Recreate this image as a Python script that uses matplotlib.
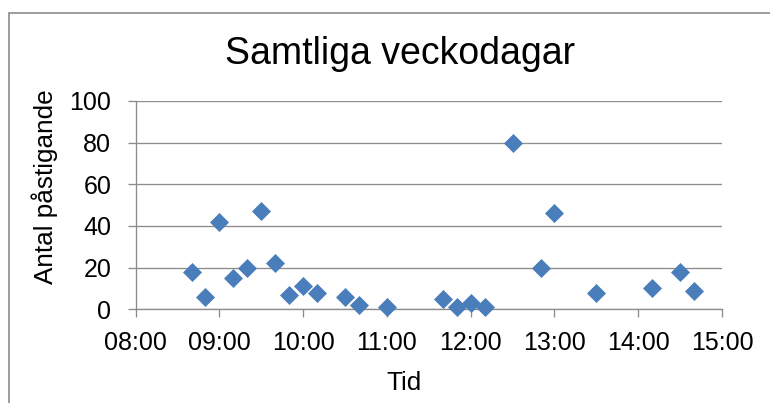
import matplotlib
matplotlib.use("Agg")
import matplotlib.pyplot as plt
from matplotlib.patches import Rectangle
from matplotlib.ticker import FuncFormatter, MultipleLocator

# Data
times = ["08:40", "08:50", "09:00", "09:10", "09:20", "09:30", "09:40", "09:50",
         "10:00", "10:10", "10:30", "10:40", "11:00", "11:40", "11:50", "12:00",
         "12:10", "12:30", "12:50", "13:00", "13:30", "14:10", "14:30", "14:40"]
boardings = [18, 6, 42, 15, 20, 47, 22, 7,
             11, 8, 6, 2, 1, 5, 1, 3,
             1, 80, 20, 46, 8, 10, 18, 9]

title = "Samtliga veckodagar"
xlabel = "Tid"
ylabel = "Antal påstigande"


def to_hours(s):
    h, m = s.split(":")
    return int(h) + int(m) / 60


hours = [to_hours(t) for t in times]

plt.rcParams['font.family'] = ['Liberation Sans', 'DejaVu Sans']

fig = plt.figure(figsize=(7.7, 4.03), dpi=100)
ax = fig.add_axes([0.1762, 0.2325, 0.7615, 0.5169])

# outer chart frame (only left and top are inside the image)
fig.patches.append(Rectangle((9 / 770, -0.1), 1.2, 0.1 + (403 - 13) / 403,
                             transform=fig.transFigure, fill=False,
                             edgecolor='#8c8c8c', linewidth=1.2))

grid_color = '#8c8c8c'
ax.scatter(hours, boardings, marker='D', s=9.7 ** 2, color='#4a7ebb',
           linewidths=0, zorder=3, clip_on=False)

ax.set_xlim(8, 15)
ax.set_ylim(0, 100)
ax.xaxis.set_major_locator(MultipleLocator(1))
ax.yaxis.set_major_locator(MultipleLocator(20))
ax.xaxis.set_major_formatter(FuncFormatter(lambda v, p: f"{int(round(v)):02d}:00"))
ax.grid(True, axis='y', color=grid_color, linewidth=0.95)
ax.set_axisbelow(True)

for side in ['top', 'right']:
    ax.spines[side].set_visible(False)
for side in ['left', 'bottom']:
    ax.spines[side].set_color(grid_color)
    ax.spines[side].set_linewidth(0.95)

ax.tick_params(axis='both', direction='out', length=5.5, width=0.95,
               color=grid_color, labelsize=18, labelcolor='black')
ax.tick_params(axis='x', pad=10)
ax.tick_params(axis='y', pad=12)

ax.set_xlabel(xlabel, fontsize=18.8, va='baseline')
ax.xaxis.set_label_coords(0.457, -0.387)
ax.set_ylabel(ylabel, fontsize=18.8, va='baseline')
ax.yaxis.set_label_coords(-0.141, 0.587)
fig.text(400 / 770, 1 - 64.3 / 403, title, ha='center', va='baseline', fontsize=27)

plt.savefig('out.png', dpi=100)
